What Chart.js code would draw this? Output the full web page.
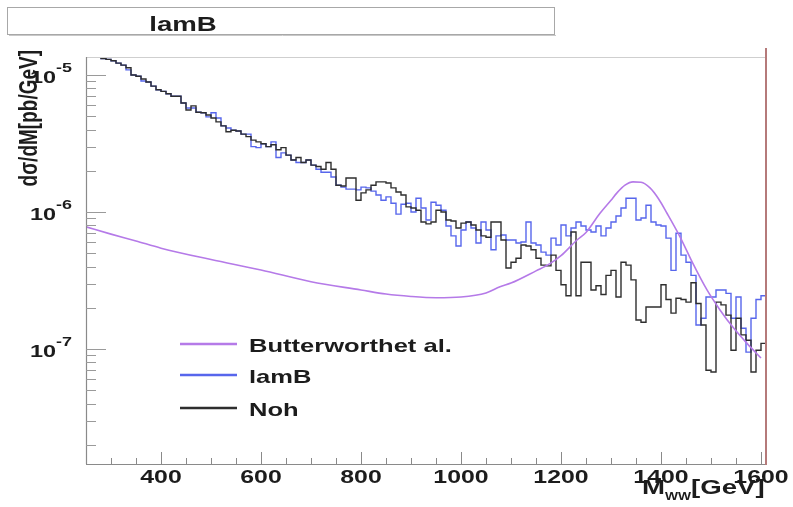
<!DOCTYPE html>
<html>
<head>
<meta charset="utf-8">
<script src="https://cdn.jsdelivr.net/npm/chart.js@4.4.1/dist/chart.umd.min.js"></script>
<style>
  html, body { margin: 0; background: #fff; }
  #wrap { width: 793px; height: 507px; }
</style>
</head>
<body>
<div id="wrap"><canvas id="mww" width="793" height="507"></canvas></div>
<script>
// histogram binning (GeV)
const binLow = 250;
const binWidth = 10;

// lamB histogram, dsigma/dM [pb/GeV], 10 GeV bins from 250 GeV
const lamB = [
  1.66e-5, 1.52e-5, 1.38e-5, 1.32e-5, 1.3e-5, 1.27e-5, 1.22e-5, 1.18e-5, 1.09e-5, 1.0e-5,
  9.8e-6, 9.05e-6, 8.9e-6, 8.3e-6, 7.8e-6, 7.6e-6, 7.3e-6, 7.0e-6, 7.0e-6, 6.25e-6,
  5.75e-6, 5.75e-6, 5.35e-6, 5.3e-6, 4.95e-6, 5.3e-6, 4.85e-6, 4.25e-6, 4.1e-6, 3.95e-6,
  3.9e-6, 3.7e-6, 3.7e-6, 3.0e-6, 2.95e-6, 3.15e-6, 3.0e-6, 3.25e-6, 2.5e-6, 2.7e-6,
  2.6e-6, 2.4e-6, 2.3e-6, 2.3e-6, 2.4e-6, 2.2e-6, 2.05e-6, 1.95e-6, 1.95e-6, 1.8e-6,
  1.57e-6, 1.52e-6, 1.47e-6, 1.47e-6, 1.45e-6, 1.52e-6, 1.5e-6, 1.42e-6, 1.33e-6, 1.22e-6,
  1.29e-6, 1.16e-6, 9.65e-7, 1.14e-6, 1.16e-6, 1.0e-6, 1.26e-6, 1.07e-6, 8.75e-7, 1.18e-6,
  1.12e-6, 1.03e-6, 7.9e-7, 6.7e-7, 5.65e-7, 7.4e-7, 8.45e-7, 7.65e-7, 5.95e-7, 8.45e-7,
  7.4e-7, 5.3e-7, 6.7e-7, 6.8e-7, 6.25e-7, 6.25e-7, 5.95e-7, 6.05e-7, 8.45e-7, 5.95e-7,
  5.75e-7, 5.1e-7, 4.85e-7, 6.45e-7, 5.75e-7, 8.05e-7, 6.7e-7, 7.65e-7, 8.45e-7, 7.9e-7,
  7.4e-7, 7.15e-7, 7.9e-7, 6.7e-7, 7.65e-7, 8.45e-7, 9.35e-7, 1.07e-6, 1.26e-6, 1.26e-6,
  8.75e-7, 9.05e-7, 1.12e-6, 8.45e-7, 8.05e-7, 7.9e-7, 6.45e-7, 3.75e-7, 7.0e-7, 4.85e-7,
  4.3e-7, 3.45e-7, 1.5e-7, 1.68e-7, 2.4e-7, 2.4e-7, 2.7e-7, 2.7e-7, 2.55e-7, 1.68e-7,
  2.4e-7, 1.42e-7, 9.5e-8, 1.68e-7, 2.3e-7, 2.45e-7
];

// Noh histogram, same binning
const noh = [
  1.66e-5, 1.52e-5, 1.37e-5, 1.32e-5, 1.3e-5, 1.27e-5, 1.22e-5, 1.18e-5, 1.13e-5, 1.0e-5,
  9.8e-6, 9.35e-6, 8.9e-6, 8.3e-6, 7.8e-6, 7.6e-6, 7.3e-6, 7.0e-6, 7.0e-6, 6.25e-6,
  5.55e-6, 5.95e-6, 5.35e-6, 5.3e-6, 5.1e-6, 4.85e-6, 4.55e-6, 4.25e-6, 3.85e-6, 3.95e-6,
  3.9e-6, 3.7e-6, 3.55e-6, 3.35e-6, 3.25e-6, 3.15e-6, 3.0e-6, 3.1e-6, 2.85e-6, 2.95e-6,
  2.6e-6, 2.4e-6, 2.5e-6, 2.3e-6, 2.4e-6, 2.2e-6, 2.15e-6, 2.05e-6, 2.3e-6, 2.05e-6,
  1.57e-6, 1.55e-6, 1.77e-6, 1.77e-6, 1.22e-6, 1.38e-6, 1.45e-6, 1.57e-6, 1.66e-6, 1.66e-6,
  1.63e-6, 1.5e-6, 1.4e-6, 1.33e-6, 1.09e-6, 1.07e-6, 1.03e-6, 8.45e-7, 8.2e-7, 8.45e-7,
  1.03e-6, 1.0e-6, 8.75e-7, 8.6e-7, 7.65e-7, 8.3e-7, 8.45e-7, 8.05e-7, 7.4e-7, 6.7e-7,
  6.55e-7, 8.45e-7, 8.45e-7, 6.25e-7, 3.9e-7, 4.3e-7, 4.6e-7, 5.75e-7, 5.65e-7, 5.3e-7,
  4.6e-7, 4.1e-7, 4.05e-7, 4.85e-7, 3.75e-7, 2.95e-7, 2.45e-7, 7.15e-7, 2.45e-7, 4.3e-7,
  4.3e-7, 2.7e-7, 2.9e-7, 2.5e-7, 3.45e-7, 3.75e-7, 2.4e-7, 4.3e-7, 4.1e-7, 3.2e-7,
  1.63e-7, 1.57e-7, 2.03e-7, 2.03e-7, 2.03e-7, 2.95e-7, 2.3e-7, 1.83e-7, 2.35e-7, 2.3e-7,
  2.2e-7, 3.05e-7, 2.15e-7, 1.5e-7, 7.0e-8, 6.8e-8, 2.2e-7, 2.1e-7, 1.77e-7, 9.8e-8,
  1.68e-7, 1.27e-7, 1.16e-7, 6.8e-8, 9.8e-8, 1.1e-7
];

// Butterworth et al. smooth curve
const butterMass = [250, 300, 350, 400, 500, 600, 700, 800, 850, 900, 950, 1000, 1050, 1078, 1100, 1150, 1178, 1200,
  1232, 1250, 1278, 1300, 1312, 1328, 1344, 1360, 1378, 1395, 1412, 1438, 1464, 1492, 1518, 1544, 1572, 1600];
const butterXsec = [7.8e-7, 6.9e-7, 6.15e-7, 5.45e-7, 4.5e-7, 3.78e-7, 3.1e-7, 2.7e-7, 2.52e-7, 2.42e-7, 2.37e-7, 2.4e-7,
  2.57e-7, 2.85e-7, 3.03e-7, 3.72e-7, 4.2e-7, 4.8e-7, 6.25e-7, 7.1e-7, 9.8e-7, 1.22e-6, 1.38e-6, 1.57e-6, 1.66e-6,
  1.65e-6, 1.5e-6, 1.25e-6, 9.8e-7, 6.6e-7, 4.2e-7, 2.7e-7, 1.93e-7, 1.44e-7, 1.1e-7, 8.6e-8];

// axis ticks
const xLabels = [400, 600, 800, 1000, 1200, 1400, 1600];
const xTickStep = 50;
const xMajorStep = 200;
const yDecades = [-8, -7, -6, -5];
const yLabelDecades = [-7, -6, -5];

const FONT = '"Liberation Sans", Arial, sans-serif';
const INK = "#1c1c1c";
const STRETCH = 1.38;   // the picture is drawn wide

function histPoints(vals) {
  const pts = vals.map((v, i) => ({ x: binLow + i * binWidth, y: v }));
  pts.push({ x: binLow + vals.length * binWidth, y: vals[vals.length - 1] });
  return pts;
}

function text(ctx, str, x, y, size, align) {
  ctx.save();
  ctx.font = "bold " + size + "px " + FONT;
  ctx.fillStyle = INK;
  ctx.textAlign = align || "left";
  ctx.textBaseline = "alphabetic";
  ctx.translate(x, y);
  ctx.scale(STRETCH, 1);
  ctx.fillText(str, 0, 0);
  const w = ctx.measureText(str).width * STRETCH;
  ctx.restore();
  return w;
}

function hline(ctx, x0, x1, y, color, width) {
  ctx.beginPath();
  ctx.strokeStyle = color;
  ctx.lineWidth = width || 1;
  ctx.moveTo(x0, y);
  ctx.lineTo(x1, y);
  ctx.stroke();
}

function vline(ctx, x, y0, y1, color, width) {
  ctx.beginPath();
  ctx.strokeStyle = color;
  ctx.lineWidth = width || 1;
  ctx.moveTo(x, y0);
  ctx.lineTo(x, y1);
  ctx.stroke();
}

// frame, ticks, labels, title box and legend in ROOT style
const rootFrame = {
  id: "rootFrame",
  afterDraw(chart) {
    const ctx = chart.ctx;
    const a = chart.chartArea;
    const xs = chart.scales.x;
    const ys = chart.scales.y;

    // title box
    ctx.save();
    ctx.fillStyle = "#fff";
    ctx.fillRect(7.5, 7.5, 547, 27);
    ctx.strokeStyle = "#a8a8a8";
    ctx.lineWidth = 1;
    ctx.strokeRect(7.5, 7.5, 547, 27);
    hline(ctx, 9, 556, 35.5, "#c8c8c8", 1);
    ctx.restore();
    text(ctx, chart.options.plugins.rootTitle.text, 183, 31, 20, "center");

    // frame lines
    hline(ctx, a.left, a.right, a.top + 0.5, "#cfcfcf", 1);
    vline(ctx, a.left + 0.5, a.top, a.bottom, "#8a8a8a", 1.2);
    hline(ctx, a.left, a.right, a.bottom + 0.5, "#8a8a8a", 1.2);
    vline(ctx, a.right, a.top - 9, a.bottom + 1, "#b57a7a", 2);

    // x ticks, drawn inward
    for (let m = xs.min; m <= xs.max; m += xTickStep) {
      const px = Math.round(xs.getPixelForValue(m)) + 0.5;
      const len = m % xMajorStep === 0 ? 12 : 6;
      vline(ctx, px, a.bottom - len, a.bottom, "#8a8a8a", 1);
    }
    xLabels.forEach(m => text(ctx, String(m), xs.getPixelForValue(m), 483, 18, "center"));

    // y ticks, drawn inward
    yDecades.forEach(k => {
      for (let f = 1; f <= 9; f++) {
        const v = f * Math.pow(10, k);
        if (v < ys.min || v > ys.max) continue;
        const py = Math.round(ys.getPixelForValue(v)) + 0.5;
        hline(ctx, a.left, a.left + (f === 1 ? 20 : 10), py, "#9a9a9a", 1);
      }
    });
    yLabelDecades.forEach(k => {
      const py = ys.getPixelForValue(Math.pow(10, k));
      text(ctx, "10", 56, py + 8, 17, "right");
      text(ctx, String(k), 56, py - 3, 13, "left");
    });

    // axis titles
    let x = 642;
    x += text(ctx, "M", x, 494, 20, "left");
    x += text(ctx, "WW", x, 500, 10, "left");
    text(ctx, "[GeV]", x, 494, 20, "left");

    ctx.save();
    ctx.translate(37, 50);
    ctx.rotate(-Math.PI / 2);
    ctx.scale(1, STRETCH);
    ctx.font = "bold 19px " + FONT;
    ctx.fillStyle = INK;
    ctx.textAlign = "right";
    ctx.textBaseline = "alphabetic";
    ctx.fillText("dσ/dM[pb/GeV]", 0, 0);
    ctx.restore();

    // legend
    const rows = [344, 375, 408];
    chart.data.datasets.forEach((ds, i) => {
      const y = rows[i];
      hline(ctx, 180, 237, y, ds.borderColor, 2.5);
      text(ctx, ds.label, 249, y + 8, 18.5, "left");
    });
  }
};

new Chart(document.getElementById("mww"), {
  type: "line",
  data: {
    datasets: [
      {
        label: "Butterworthet al.",
        data: butterMass.map((m, i) => ({ x: m, y: butterXsec[i] })),
        borderColor: "#b57ae8",
        borderWidth: 1.6,
        pointRadius: 0,
        cubicInterpolationMode: "monotone",
        clip: 0,
        order: 0
      },
      {
        label: "lamB",
        data: histPoints(lamB),
        borderColor: "#5766ec",
        borderWidth: 1.4,
        pointRadius: 0,
        stepped: true,
        clip: 0,
        order: 2
      },
      {
        label: "Noh",
        data: histPoints(noh),
        borderColor: "#2e2e2e",
        borderWidth: 1.4,
        pointRadius: 0,
        stepped: true,
        clip: 0,
        order: 1
      }
    ]
  },
  options: {
    responsive: false,
    animation: false,
    events: [],
    layout: { padding: { top: 57, right: 27, left: 0, bottom: 0 } },
    plugins: {
      legend: { display: false },
      tooltip: { enabled: false },
      rootTitle: { text: "lamB" }
    },
    scales: {
      x: {
        type: "linear",
        min: 250,
        max: 1610,
        ticks: { display: false },
        grid: { display: false },
        border: { display: false },
        afterFit: s => { s.height = 43; }
      },
      y: {
        type: "logarithmic",
        min: 1.45e-8,
        max: 1.353e-5,
        ticks: { display: false },
        grid: { display: false },
        border: { display: false },
        afterFit: s => { s.width = 86; }
      }
    }
  },
  plugins: [rootFrame]
});
</script>
</body>
</html>
